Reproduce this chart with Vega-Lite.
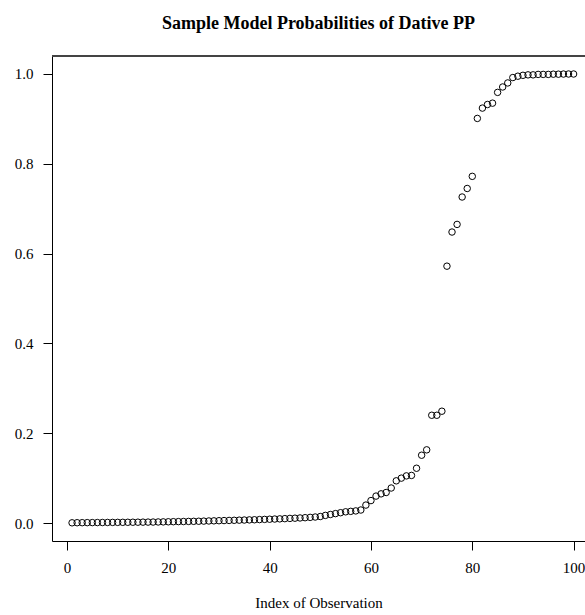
{
  "$schema": "https://vega.github.io/schema/vega-lite/v6.json",
  "autosize": "none",
  "width": 533,
  "height": 485,
  "padding": {"left": 52, "top": 56, "right": 0, "bottom": 74},
  "background": "white",
  "config": {
    "view": {"stroke": null},
    "font": "Liberation Serif"
  },
  "title": {
    "text": "Sample Model Probabilities of Dative PP",
    "font": "Liberation Serif",
    "fontSize": 18,
    "fontWeight": "bold",
    "color": "black",
    "anchor": "middle",
    "baseline": "alphabetic",
    "offset": 9
  },
  "data": {
    "values": [
      {"index": 1, "prob": 0.0005}, {"index": 2, "prob": 0.0007}, {"index": 3, "prob": 0.0008}, {"index": 4, "prob": 0.0009}, {"index": 5, "prob": 0.001},
      {"index": 6, "prob": 0.0011}, {"index": 7, "prob": 0.0012}, {"index": 8, "prob": 0.0013}, {"index": 9, "prob": 0.0014}, {"index": 10, "prob": 0.0015},
      {"index": 11, "prob": 0.0016}, {"index": 12, "prob": 0.0017}, {"index": 13, "prob": 0.0018}, {"index": 14, "prob": 0.0019}, {"index": 15, "prob": 0.002},
      {"index": 16, "prob": 0.0021}, {"index": 17, "prob": 0.0022}, {"index": 18, "prob": 0.0024}, {"index": 19, "prob": 0.0026}, {"index": 20, "prob": 0.0028},
      {"index": 21, "prob": 0.003}, {"index": 22, "prob": 0.0032}, {"index": 23, "prob": 0.0034}, {"index": 24, "prob": 0.0036}, {"index": 25, "prob": 0.0038},
      {"index": 26, "prob": 0.004}, {"index": 27, "prob": 0.0043}, {"index": 28, "prob": 0.0046}, {"index": 29, "prob": 0.0049}, {"index": 30, "prob": 0.0052},
      {"index": 31, "prob": 0.0055}, {"index": 32, "prob": 0.0058}, {"index": 33, "prob": 0.0061}, {"index": 34, "prob": 0.0064}, {"index": 35, "prob": 0.0067},
      {"index": 36, "prob": 0.007}, {"index": 37, "prob": 0.0073}, {"index": 38, "prob": 0.0077}, {"index": 39, "prob": 0.0081}, {"index": 40, "prob": 0.0085},
      {"index": 41, "prob": 0.0089}, {"index": 42, "prob": 0.0093}, {"index": 43, "prob": 0.0098}, {"index": 44, "prob": 0.0103}, {"index": 45, "prob": 0.0108},
      {"index": 46, "prob": 0.0113}, {"index": 47, "prob": 0.0119}, {"index": 48, "prob": 0.0126}, {"index": 49, "prob": 0.0134}, {"index": 50, "prob": 0.0145},
      {"index": 51, "prob": 0.017}, {"index": 52, "prob": 0.019}, {"index": 53, "prob": 0.021}, {"index": 54, "prob": 0.023}, {"index": 55, "prob": 0.025},
      {"index": 56, "prob": 0.026}, {"index": 57, "prob": 0.027}, {"index": 58, "prob": 0.029}, {"index": 59, "prob": 0.04}, {"index": 60, "prob": 0.05},
      {"index": 61, "prob": 0.06}, {"index": 62, "prob": 0.065}, {"index": 63, "prob": 0.068}, {"index": 64, "prob": 0.078}, {"index": 65, "prob": 0.094},
      {"index": 66, "prob": 0.1}, {"index": 67, "prob": 0.105}, {"index": 68, "prob": 0.106}, {"index": 69, "prob": 0.122}, {"index": 70, "prob": 0.151},
      {"index": 71, "prob": 0.163}, {"index": 72, "prob": 0.24}, {"index": 73, "prob": 0.24}, {"index": 74, "prob": 0.249}, {"index": 75, "prob": 0.572},
      {"index": 76, "prob": 0.648}, {"index": 77, "prob": 0.665}, {"index": 78, "prob": 0.726}, {"index": 79, "prob": 0.745}, {"index": 80, "prob": 0.772},
      {"index": 81, "prob": 0.901}, {"index": 82, "prob": 0.924}, {"index": 83, "prob": 0.932}, {"index": 84, "prob": 0.935}, {"index": 85, "prob": 0.959},
      {"index": 86, "prob": 0.971}, {"index": 87, "prob": 0.98}, {"index": 88, "prob": 0.992}, {"index": 89, "prob": 0.995}, {"index": 90, "prob": 0.997},
      {"index": 91, "prob": 0.998}, {"index": 92, "prob": 0.998}, {"index": 93, "prob": 0.999}, {"index": 94, "prob": 0.999}, {"index": 95, "prob": 0.999},
      {"index": 96, "prob": 0.9995}, {"index": 97, "prob": 0.9995}, {"index": 98, "prob": 0.9998}, {"index": 99, "prob": 0.9999}, {"index": 100, "prob": 0.9999}
    ]
  },
  "layer": [
    {
      "mark": {"type": "point", "shape": "circle", "filled": false, "stroke": "black", "strokeWidth": 1, "size": 42, "opacity": 1},
      "encoding": {
        "x": {
          "field": "index", "type": "quantitative",
          "scale": {"domain": [-2.96, 102.25], "nice": false, "zero": false},
          "axis": {
            "title": "Index of Observation",
            "values": [0, 20, 40, 60, 80, 100],
            "format": "d",
            "grid": false,
            "domainColor": "black", "domainWidth": 1,
            "tickColor": "black", "tickWidth": 1, "tickSize": 9,
            "labelFont": "Liberation Serif", "labelFontSize": 15, "labelColor": "black", "labelPadding": 10,
            "labelFlush": false, "labelOverlap": false,
            "titleFont": "Liberation Serif", "titleFontSize": 15, "titleFontWeight": "normal", "titleColor": "black", "titlePadding": 20
          }
        },
        "y": {
          "field": "prob", "type": "quantitative",
          "scale": {"domain": [-0.04, 1.04], "nice": false, "zero": false},
          "axis": {
            "title": null,
            "values": [0, 0.2, 0.4, 0.6, 0.8, 1.0],
            "format": ".1f",
            "grid": false,
            "domainColor": "black", "domainWidth": 1,
            "tickColor": "black", "tickWidth": 1, "tickSize": 9,
            "labelFont": "Liberation Serif", "labelFontSize": 15, "labelColor": "black", "labelPadding": 10,
            "labelFlush": false, "labelOverlap": false, "labelBaseline": "middle"
          }
        }
      }
    },
    {
      "mark": {"type": "rule", "color": "#444444", "strokeWidth": 1},
      "encoding": {
        "y": {"datum": 1.04, "type": "quantitative"}
      }
    }
  ]
}
